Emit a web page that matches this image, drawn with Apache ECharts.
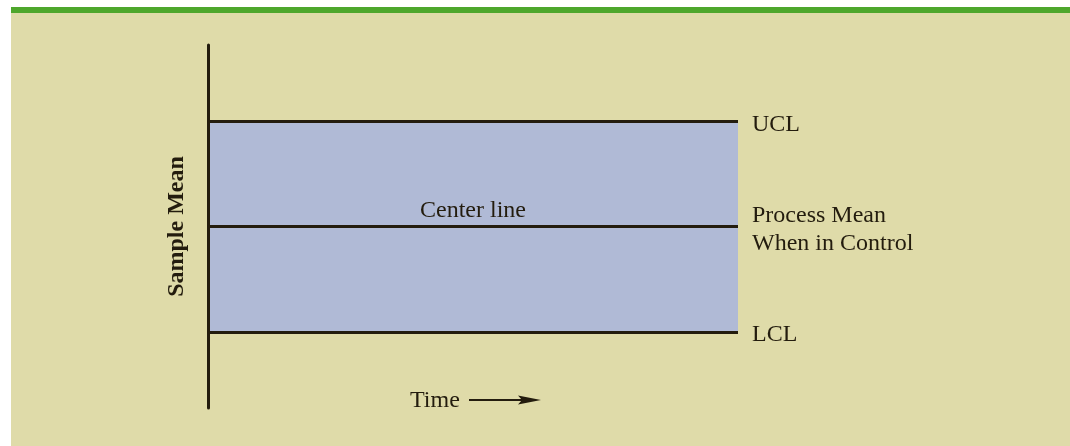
<!DOCTYPE html>
<html>
<head>
<meta charset="UTF-8">
<title>Control chart</title>
<script src="https://cdn.jsdelivr.net/npm/echarts@6/dist/echarts.min.js"></script>
<style>
body { margin: 0; background: #fff; }
#main { width: 1070px; height: 446px; }
</style>
</head>
<body>
<div id="main"></div>
<script>
// schematic values (sample mean scale 0..100)
var timeRange = [0, 10];
var meanRange = [0, 100];
var limitNames = ['UCL', 'Process Mean\nWhen in Control', 'LCL'];
var limitValues = [79, 50, 21];
var centerLabel = 'Center line';

var ink = '#231c0e';
var serif = '"Liberation Serif", "Times New Roman", serif';

var chart = echarts.init(document.getElementById('main'));

var lines = limitNames.map(function (name, i) {
    return {
        yAxis: limitValues[i],
        label: { formatter: name }
    };
});
// the center line also carries a label above its middle
lines.push({
    yAxis: limitValues[1],
    lineStyle: { width: 0 },
    label: { formatter: centerLabel, position: 'insideMiddleTop', distance: 2, offset: [0, 0], padding: 0 }
});

var option = {
    backgroundColor: '#fff',
    animation: false,
    grid: { left: 208, right: 332, top: 45, bottom: 38 },
    xAxis: {
        type: 'value',
        min: timeRange[0],
        max: timeRange[1],
        axisLine: { show: false },
        axisTick: { show: false },
        axisLabel: { show: false },
        splitLine: { show: false }
    },
    yAxis: {
        type: 'value',
        z: 10,
        min: meanRange[0],
        max: meanRange[1],
        name: 'Sample Mean',
        nameLocation: 'middle',
        nameRotate: 90,
        nameGap: 19,
        nameTextStyle: { fontFamily: serif, fontWeight: 'bold', fontSize: 24, color: ink },
        axisLine: { show: true, lineStyle: { color: ink, width: 3 } },
        axisTick: { show: false },
        axisLabel: { show: false },
        splitLine: { show: false }
    },
    graphic: [
        { type: 'rect', z: -10, shape: { x: 11, y: 7, width: 1059, height: 439 }, style: { fill: '#dfdba9' } },
        { type: 'rect', z: -9, shape: { x: 11, y: 7, width: 1059, height: 6 }, style: { fill: '#4ea72c' } },
        { type: 'text', left: 410, top: 389, style: { text: 'Time', font: '24px ' + serif, fill: ink } },
        { type: 'line', shape: { x1: 469, y1: 400, x2: 525, y2: 400 }, style: { stroke: ink, lineWidth: 2 } },
        { type: 'polygon', shape: { points: [[518, 395.5], [541, 400], [518, 404.5], [522, 400]] }, style: { fill: ink } }
    ],
    series: [{
        type: 'line',
        data: [],
        markArea: {
            silent: true,
            itemStyle: { color: '#b0bad6' },
            data: [[{ yAxis: limitValues[2] }, { yAxis: limitValues[0] }]]
        },
        markLine: {
            silent: true,
            symbol: ['none', 'none'],
            lineStyle: { color: ink, width: 3, type: 'solid' },
            label: {
                position: 'end',
                distance: 14,
                offset: [0, 3],
                color: ink,
                fontFamily: serif,
                fontSize: 24,
                lineHeight: 28
            },
            data: lines
        }
    }]
};

chart.setOption(option);
</script>
</body>
</html>
